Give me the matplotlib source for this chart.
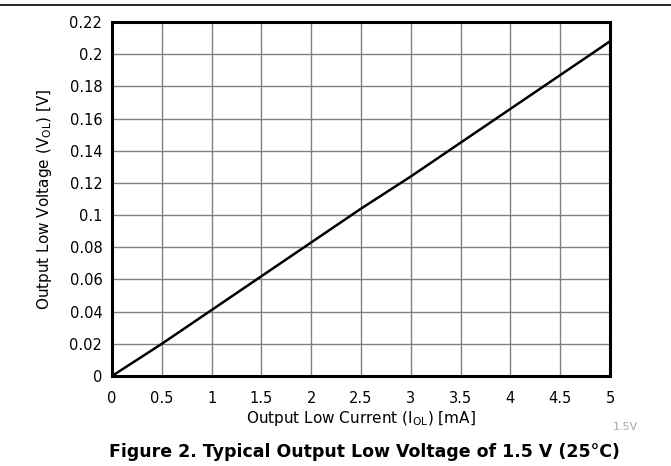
import numpy as np
import matplotlib.pyplot as plt

plt.rcParams['font.family'] = ['DejaVu Sans']

# data
current_ma = [0, 0.5, 1, 1.5, 2, 2.5, 3, 3.5, 4, 4.5, 5]
vol_v = [0, 0.020, 0.041, 0.062, 0.083, 0.104, 0.124, 0.145, 0.166, 0.187, 0.208]
xticks = np.arange(0, 5.01, 0.5)
yticks = np.arange(0, 0.2201, 0.02)
xtick_labels = ['0', '0.5', '1', '1.5', '2', '2.5', '3', '3.5', '4', '4.5', '5']
ytick_labels = ['0', '0.02', '0.04', '0.06', '0.08', '0.1', '0.12', '0.14',
                '0.16', '0.18', '0.2', '0.22']

W, H = 671, 466
fig = plt.figure(figsize=(W / 100, H / 100), dpi=100)
ax = fig.add_axes([112 / W, 1 - 376 / H, 498 / W, 354 / H])

ax.plot(current_ma, vol_v, color='black', lw=1.8, zorder=3)

ax.set_xlim(0, 5)
ax.set_ylim(0, 0.22)
ax.set_xticks(xticks)
ax.set_xticklabels(xtick_labels)
ax.set_yticks(yticks)
ax.set_yticklabels(ytick_labels)
ax.tick_params(length=0, labelsize=10.5)
ax.tick_params(axis='x', pad=11)
ax.tick_params(axis='y', pad=7)
ax.grid(True, color='#808080', lw=1)
for s in ax.spines.values():
    s.set_linewidth(2.2)
    s.set_color('black')

ax.set_xlabel('Output Low Current (I$_{\\mathregular{OL}}$) [mA]', fontsize=11, va='center')
ax.xaxis.set_label_coords(0.5, -(418 - 376) / 354)
ax.set_ylabel('Output Low Voltage (V$_{\\mathregular{OL}}$) [V]', fontsize=11, va='center')
ax.yaxis.set_label_coords(-(112 - 44) / 498, 0.5)

# top rule and captions
fig.add_artist(plt.Line2D([0, 1], [1 - 5 / H, 1 - 5 / H], color='black', lw=1.2))
fig.text(625 / W, 1 - 427 / H, '1.5V', fontsize=8, color='#a8a8a8', ha='center', va='center')
fig.text(364 / W, 1 - 452 / H, 'Figure 2. Typical Output Low Voltage of 1.5 V (25°C)',
         fontsize=12.5, fontweight='bold', ha='center', va='center')

fig.savefig('out.png', dpi=100)
